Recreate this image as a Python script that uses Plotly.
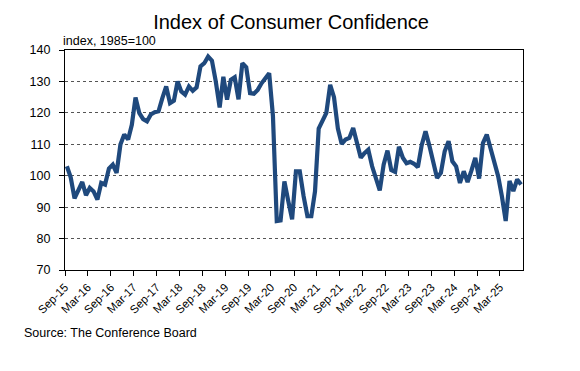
import pandas as pd
import plotly.graph_objects as go

start_month = "2015-09-01"
values = [
    103.0, 99.5, 92.8, 95.3, 98.0, 93.8, 96.1, 95.0, 92.4, 97.7, 97.2, 102.3,
    103.5, 100.9, 109.9, 113.1, 111.5, 116.2, 124.9, 119.9, 118.0, 117.3, 119.5, 120.2,
    120.5, 124.7, 128.4, 123.1, 123.9, 130.0, 126.8, 125.8, 128.4, 127.0, 128.1, 134.8,
    135.8, 137.9, 136.6, 130.0, 121.7, 131.5, 124.2, 130.5, 131.3, 124.3, 135.8, 134.5,
    126.3, 126.1, 127.3, 129.4, 130.8, 132.6, 119.0, 85.6, 85.8, 98.2, 92.0, 86.1,
    101.4, 101.4, 93.5, 87.1, 87.1, 95.0, 115.0, 117.8, 120.0, 128.9, 125.0, 115.0,
    110.1, 111.5, 112.0, 115.2, 110.5, 105.7, 107.2, 108.3, 103.0, 98.6, 95.3, 103.5,
    108.0, 101.8, 101.2, 109.2, 105.7, 104.0, 104.4, 103.8, 102.7, 109.7, 114.1, 109.5,
    104.1, 99.3, 100.9, 107.8, 111.0, 104.6, 103.0, 97.7, 101.4, 98.0, 101.6, 105.7,
    99.1, 110.4, 113.1, 108.8, 105.1, 99.8, 93.5, 85.6, 98.3, 95.1, 98.8, 97.2,
]
tick_labels = ["Sep-15", "Mar-16", "Sep-16", "Mar-17", "Sep-17", "Mar-18", "Sep-18",
               "Mar-19", "Sep-19", "Mar-20", "Sep-20", "Mar-21", "Sep-21", "Mar-22",
               "Sep-22", "Mar-23", "Sep-23", "Mar-24", "Sep-24", "Mar-25"]
y_ticks = [70, 80, 90, 100, 110, 120, 130, 140]

months = pd.date_range(start=start_month, periods=len(values), freq="MS")
tick_dates = pd.date_range(start=start_month, periods=len(tick_labels), freq="6MS")
x_end = pd.date_range(start=start_month, periods=len(values) + 1, freq="MS")[-1]

FONT = "Liberation Sans, Arial, sans-serif"

fig = go.Figure()
fig.add_trace(go.Scatter(
    x=months, y=values, mode="lines",
    xperiod="M1", xperiodalignment="middle",
    line=dict(color="#1f497d", width=4.2),
    hoverinfo="skip", showlegend=False,
))

fig.update_layout(
    width=580, height=371,
    margin=dict(l=57, r=65, t=42, b=109),
    paper_bgcolor="white", plot_bgcolor="white",
    font=dict(family=FONT, color="#000000"),
    title=dict(text="Index of Consumer Confidence", x=0.488, xanchor="center",
               y=0.962, yanchor="middle", font=dict(size=20, color="#000000")),
    xaxis=dict(
        type="date", automargin=False,
        range=[months[0], x_end],
        tickvals=tick_dates, ticktext=tick_labels,
        tickangle=-45, tickfont=dict(size=11.5),
        ticks="outside", ticklen=5, tickcolor="#000000",
        showline=True, linecolor="#000000", linewidth=1.3, mirror=True,
        showgrid=False, zeroline=False,
    ),
    yaxis=dict(
        range=[70, 140], tickvals=y_ticks, automargin=False,
        tickfont=dict(size=12.5),
        ticks="outside", ticklen=5, tickcolor="#000000",
        ticklabelstandoff=6,
        showline=True, linecolor="#000000", linewidth=1.3, mirror=True,
        showgrid=True, gridcolor="#555555", gridwidth=1, griddash="dot",
        zeroline=False,
    ),
    annotations=[
        dict(text="index, 1985=100", xref="paper", yref="paper", x=-0.008, y=1.0,
             xanchor="left", yanchor="bottom", showarrow=False, font=dict(size=12.5)),
        dict(text="Source: The Conference Board", xref="paper", yref="paper",
             x=-0.094, y=-0.287, xanchor="left", yanchor="middle", showarrow=False,
             font=dict(size=12.5)),
    ],
)

fig.write_html("out.html")
